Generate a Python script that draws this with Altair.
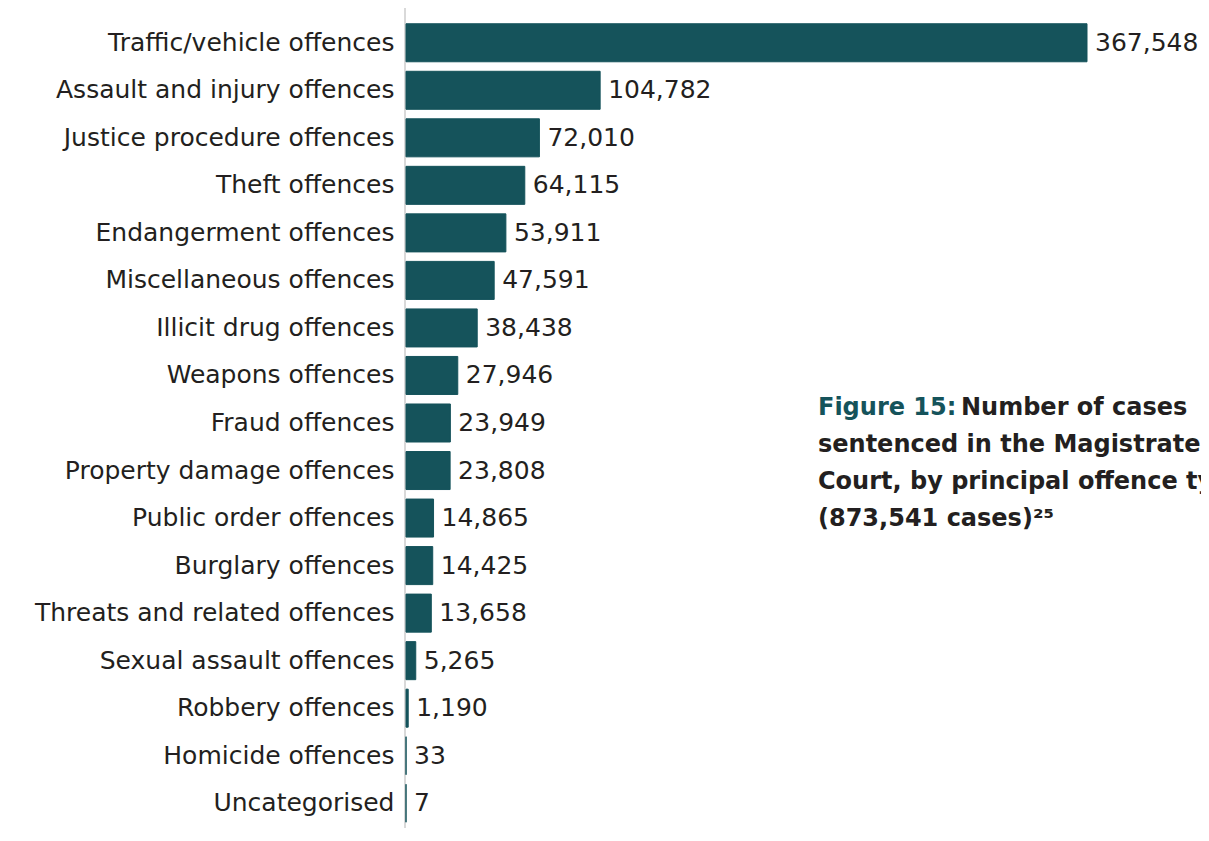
import altair as alt
import pandas as pd

categories = [
    "Traffic/vehicle offences", "Assault and injury offences", "Justice procedure offences",
    "Theft offences", "Endangerment offences", "Miscellaneous offences",
    "Illicit drug offences", "Weapons offences", "Fraud offences",
    "Property damage offences", "Public order offences", "Burglary offences",
    "Threats and related offences", "Sexual assault offences", "Robbery offences",
    "Homicide offences", "Uncategorised",
]
values = [367548, 104782, 72010, 64115, 53911, 47591, 38438, 27946, 23949,
          23808, 14865, 14425, 13658, 5265, 1190, 33, 7]

title_lead = "Figure 15:"
title_lines = [
    "Number of cases",
    "sentenced in the Magistrates\u2019",
    "Court, by principal offence type",
    "(873,541 cases)\u00b2\u2075",
]

FONT = "DejaVu Sans"
BAR = "#15535b"
TEXT = "#231f20"

df = pd.DataFrame({"category": categories, "value": values})
xmax = max(values) * 795 / 681

y = alt.Y("category:N", sort=categories,
          scale=alt.Scale(paddingInner=0.2, paddingOuter=0.1),
          axis=alt.Axis(title=None, domain=False, ticks=False, labelFontSize=25,
                        labelFont=FONT, labelColor=TEXT, labelPadding=12, labelLimit=0))
x = alt.X("value:Q", scale=alt.Scale(domain=[0, xmax], nice=False), axis=None)

base = alt.Chart(df)
bars = base.mark_bar(color=BAR, stroke=BAR, strokeWidth=1).encode(x=x, y=y)
labels = base.mark_text(align="left", baseline="middle", dx=8, fontSize=25,
                        font=FONT, color=TEXT).encode(
    x=x, y=y, text=alt.Text("value:Q", format=","))

rule = alt.Chart(df.head(1)).mark_rule(color="#d9d9d9", strokeWidth=2).encode(
    x=alt.value(-1), y=alt.value(-11), y2=alt.value(830))

lead = alt.Chart(df.head(1)).mark_text(
    text=title_lead, align="left", baseline="alphabetic", fontSize=24,
    fontWeight="bold", font=FONT, color=BAR).encode(x=alt.value(412), y=alt.value(396))

tdf = pd.DataFrame({"line": title_lines, "row": list(range(len(title_lines)))})
tdf["xpos"] = [412 + 143 if i == 0 else 412 for i in range(len(title_lines))]
tdf["ypos"] = [396 + 37 * i for i in range(len(title_lines))]
title = alt.Chart(tdf).mark_text(
    align="left", baseline="alphabetic", fontSize=24, fontWeight="bold",
    font=FONT, color=TEXT).encode(
    x=alt.X("xpos:Q", scale=None), y=alt.Y("ypos:Q", scale=None), text="line:N")

chart = alt.layer(rule, bars, labels, lead, title).properties(
    width=795, height=808,
    autosize=alt.AutoSizeParams(type="none"),
    padding={"left": 398, "top": 11, "right": 0, "bottom": 1},
).configure(background="white").configure_view(stroke=None)

chart.save("out.html", embed_options={"renderer": "svg", "actions": False})
